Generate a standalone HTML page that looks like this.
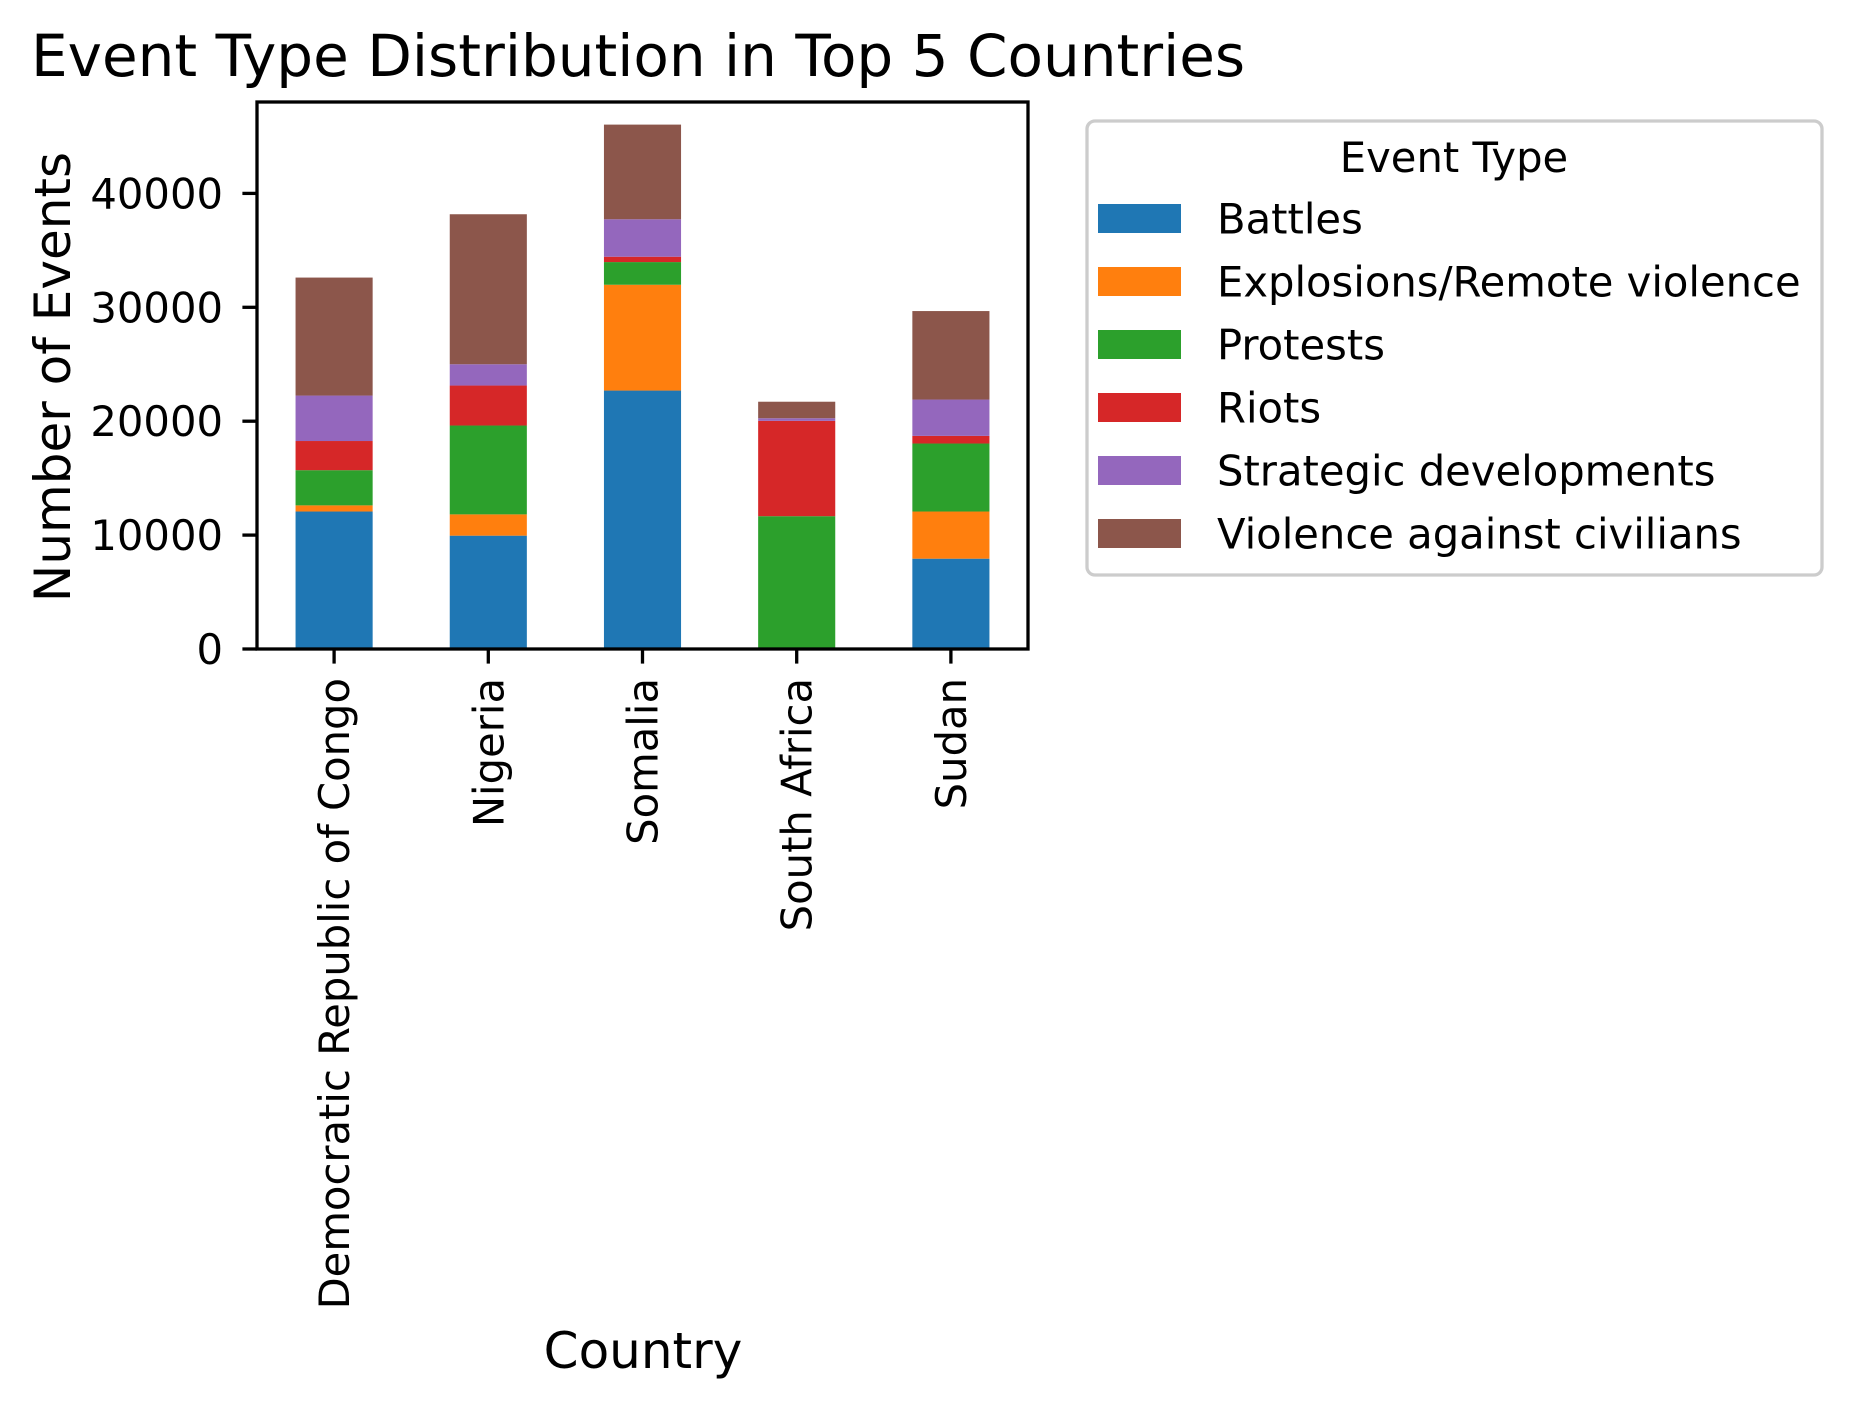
<!DOCTYPE html>
<html><head><meta charset="utf-8"><style>
html,body{margin:0;padding:0;background:#fff;}
svg{display:block;font-family:"DejaVu Sans","Liberation Sans",sans-serif;}
</style></head><body>
<svg id="chart" width="1849" height="1402" viewBox="0 0 1849 1402" xmlns="http://www.w3.org/2000/svg">
<rect width="1849" height="1402" fill="#fff"/>
<text x="31" y="76" font-size="58" fill="#000">Event Type Distribution in Top 5 Countries</text>
<g id="bars"></g>
<g id="axes"></g>
<text transform="translate(70,377) rotate(-90)" text-anchor="middle" font-size="50" fill="#000">Number of Events</text>
<text x="643" y="1368" text-anchor="middle" font-size="50" fill="#000">Country</text>
<g id="legend"></g>
</svg>
<script>
const categories = ["Democratic Republic of Congo","Nigeria","Somalia","South Africa","Sudan"];
const seriesNames = ["Battles","Explosions/Remote violence","Protests","Riots","Strategic developments","Violence against civilians"];
const battles = [12070, 9950, 22690, 100, 7930];
const explosions = [540, 1870, 9290, 0, 4140];
const protests = [3090, 7800, 1990, 11560, 5970];
const riots = [2560, 3510, 470, 8370, 670];
const strategic = [3990, 1870, 3290, 230, 3190];
const violence = [10360, 13170, 8310, 1450, 7770];
const yTicks = [0, 10000, 20000, 30000, 40000];

const series = [battles, explosions, protests, riots, strategic, violence];
const colors = ["#1f77b4","#ff7f0e","#2ca02c","#d62728","#9467bd","#8c564b"];
const NS = "http://www.w3.org/2000/svg";
const ax = {left:257, right:1028, top:102, bottom:649};
const yZero = 649, pxPer = 113.9/10000;
function yScale(v){ return yZero - v*pxPer; }
const step = (ax.right-ax.left)/categories.length;
function xScale(i){ return ax.left + step*(i+0.5); }
const barW = step*0.5;
function mk(tag, attrs){ const e=document.createElementNS(NS,tag); for(const k in attrs) e.setAttribute(k, attrs[k]); return e; }

const barsG = document.getElementById('bars');
categories.forEach((c,i)=>{
  let base = 0;
  series.forEach((s,j)=>{
    const v = s[i];
    const r = mk('rect',{x:xScale(i)-barW/2, y:yScale(base+v), width:barW, height:Math.max(0,yScale(base)-yScale(base+v)), fill:colors[j]});
    
    
    barsG.appendChild(r);
    base += v;
  });
});

const axesG = document.getElementById('axes');
const frame = mk('rect',{x:ax.left,y:ax.top,width:ax.right-ax.left,height:ax.bottom-ax.top,fill:'none',stroke:'#000','stroke-width':3.3});


axesG.appendChild(frame);
yTicks.forEach(t=>{
  const y = yScale(t);
  const l = mk('line',{x1:ax.left-14.6,x2:ax.left,y1:y,y2:y,stroke:'#000','stroke-width':3.3});
  
  
  axesG.appendChild(l);
  const tx = mk('text',{x:223,y:y+15,'text-anchor':'end','font-size':41.7,fill:'#000'});
  tx.textContent = String(t);
  
  
  axesG.appendChild(tx);
});
categories.forEach((c,i)=>{
  const x = xScale(i);
  const l = mk('line',{x1:x,x2:x,y1:ax.bottom,y2:ax.bottom+14.6,stroke:'#000','stroke-width':3.3});
  
  
  axesG.appendChild(l);
  const tx = mk('text',{transform:`translate(${x+15},${ax.bottom+29}) rotate(-90)`,'text-anchor':'end','font-size':41.7,fill:'#000'});
  tx.textContent = c;
  
  
  axesG.appendChild(tx);
});

const lg = document.getElementById('legend');
const box = mk('rect',{x:1087,y:121,width:735,height:454,rx:8,fill:'#fff',stroke:'#ccc','stroke-width':3.3});


lg.appendChild(box);
const lt = mk('text',{x:1454,y:172,'text-anchor':'middle','font-size':41.7,fill:'#000'});
lt.textContent = 'Event Type';


lg.appendChild(lt);
seriesNames.forEach((n,j)=>{
  const cy = 218.5 + 63*j;
  const p = mk('rect',{x:1098,y:cy-14.5,width:83,height:29,fill:colors[j]});
  
  
  lg.appendChild(p);
  const t = mk('text',{x:1217,y:cy+15,'font-size':41.7,fill:'#000'});
  t.textContent = n;
  
  
  lg.appendChild(t);
});
</script>
</body></html>
